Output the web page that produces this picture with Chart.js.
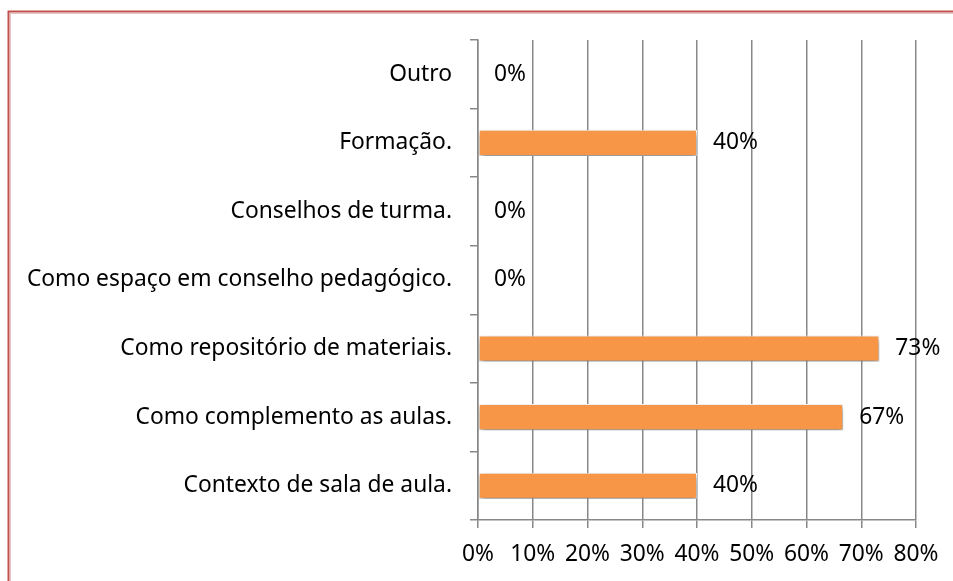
<!DOCTYPE html>
<html><head><meta charset="utf-8">
<script src="https://cdn.jsdelivr.net/npm/chart.js@4"></script>
<style>html,body{margin:0;padding:0;background:#fff}#wrap{width:953px;height:581px;position:relative}</style>
</head><body><div id="wrap"><canvas id="c" width="953" height="581"></canvas></div>
<script>
const categories = ["Outro","Formação.","Conselhos de turma.","Como espaço em conselho pedagógico.","Como repositório de materiais.","Como complemento as aulas.","Contexto de sala de aula."];
const values = [0, 40, 0, 0, 73.3, 66.7, 40];
const valueLabels = ["0%","40%","0%","0%","73%","67%","40%"];
const xTicks = [0,10,20,30,40,50,60,70,80];

const FONT = "'Noto Sans', sans-serif";
const FS = 22.8;

const frame = {
  id:'frame',
  beforeDraw(chart){
    const c = chart.ctx;
    c.save();
    c.strokeStyle = '#c0504d'; c.lineWidth = 2;
    c.beginPath(); c.moveTo(8.5, 953*2); c.lineTo(8.5, 11.5); c.lineTo(960, 11.5); c.stroke();
    c.strokeStyle = 'rgba(192,80,77,0.35)'; c.lineWidth = 1;
    c.beginPath(); c.moveTo(10.5, 600); c.lineTo(10.5, 13.5); c.lineTo(960, 13.5); c.stroke();
    c.restore();
  }
};
const shadow = {
  id:'shadow',
  beforeDatasetsDraw(chart){
    const c = chart.ctx; c.save();
    c.shadowColor = 'rgba(0,0,0,0.5)'; c.shadowBlur = 6; c.shadowOffsetX = 1; c.shadowOffsetY = 3;
  },
  afterDatasetsDraw(chart){
    chart.ctx.restore();
    const c = chart.ctx; c.save();
    c.font = FS + 'px ' + FONT; c.fillStyle = '#000'; c.textAlign = 'left'; c.textBaseline = 'middle';
    chart.getDatasetMeta(0).data.forEach((el, i) => {
      c.fillText(valueLabels[i], el.x + 16, el.y);
    });
    c.restore();
  }
};

new Chart(document.getElementById('c'), {
  type:'bar',
  data:{ labels: categories, datasets:[{ data: values, backgroundColor:'#f79646', borderColor:'#ffffff', borderWidth:1, borderSkipped:false, barPercentage:0.38, categoryPercentage:1 }]},
  options:{
    indexAxis:'y', responsive:false, animation:false,
    layout:{ padding:{ left:0, top:40, right:37, bottom:0 } },
    plugins:{ legend:{display:false}, tooltip:{enabled:false} },
    scales:{
      x:{ min:0, max:80, afterBuildTicks(s){ s.ticks = xTicks.map(v=>({value:v})); },
        afterFit(s){ s.height = 61; },
        grid:{ color:'#888888', lineWidth:1.5, tickLength:8, drawTicks:true },
        border:{ color:'#888888', width:1.5 },
        ticks:{ color:'#000', font:{ family:FONT, size:FS }, padding:13, callback:v=>v+'%', maxRotation:0, autoSkip:false } },
      y:{ afterFit(s){ s.width = 478; },
        grid:{ display:true, drawOnChartArea:false, offset:true, color:'#888888', lineWidth:1.5, tickLength:8 },
        border:{ color:'#888888', width:1.5 },
        ticks:{ color:'#000', font:{ family:FONT, size:FS }, padding:18 } }
    }
  },
  plugins:[frame, shadow]
});
</script></body></html>
